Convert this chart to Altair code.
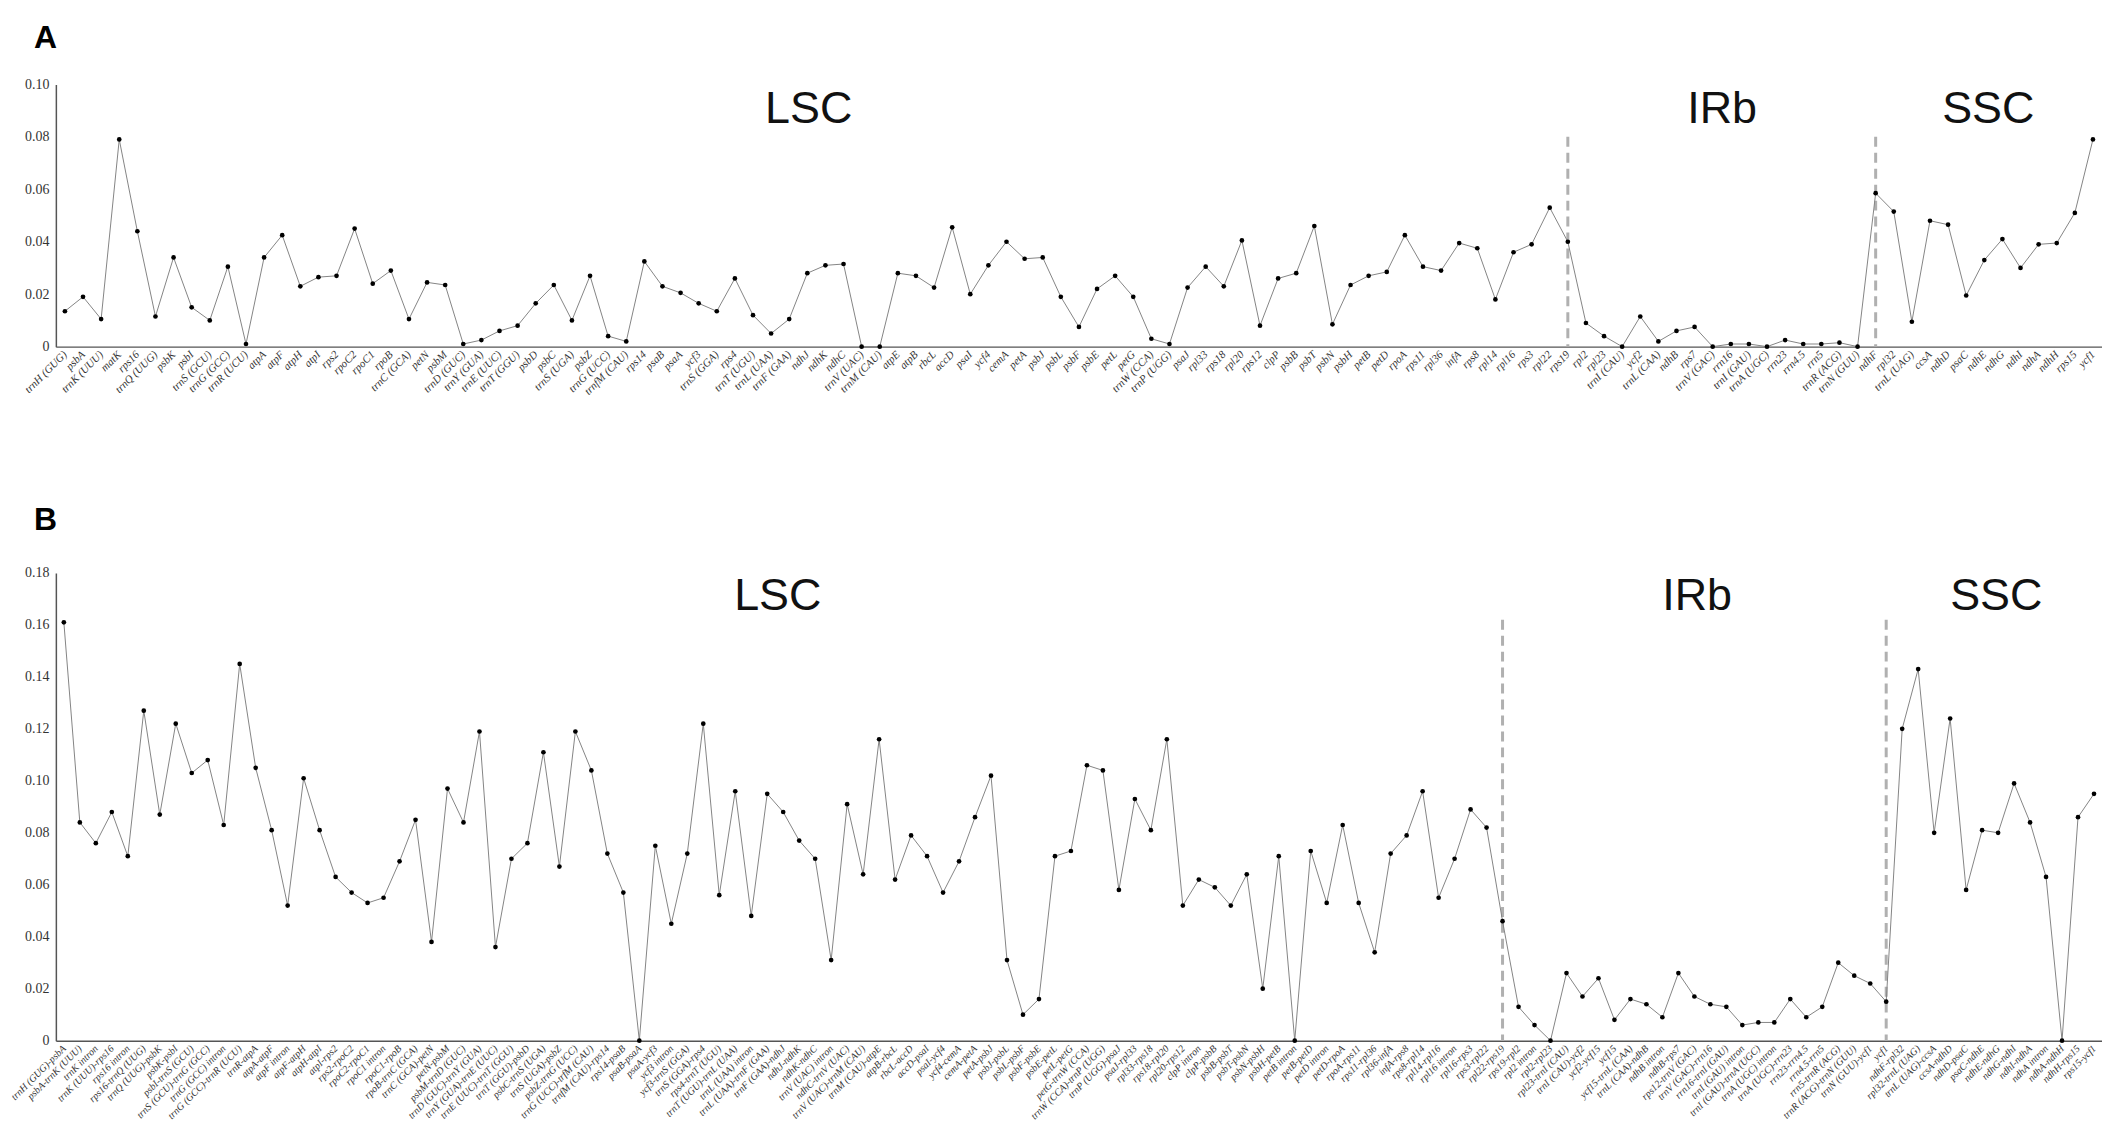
import altair as alt
import pandas as pd

# ---------------- Panel A: genes ----------------
a_genes = [
    "trnH (GUG)", "psbA", "trnK (UUU)", "matK", "rps16", "trnQ (UUG)", "psbK", "psbI",
    "trnS (GCU)", "trnG (GCC)", "trnR (UCU)", "atpA", "atpF", "atpH", "atpI", "rps2",
    "rpoC2", "rpoC1", "rpoB", "trnC (GCA)", "petN", "psbM", "trnD (GUC)", "trnY (GUA)",
    "trnE (UUC)", "trnT (GGU)", "psbD", "psbC", "trnS (UGA)", "psbZ", "trnG (UCC)",
    "trnfM (CAU)", "rps14", "psaB", "psaA", "ycf3", "trnS (GGA)", "rps4", "trnT (UGU)",
    "trnL (UAA)", "trnF (GAA)", "ndhJ", "ndhK", "ndhC", "trnV (UAC)", "trnM (CAU)",
    "atpE", "atpB", "rbcL", "accD", "psaI", "ycf4", "cemA", "petA", "psbJ", "psbL",
    "psbF", "psbE", "petL", "petG", "trnW (CCA)", "trnP (UGG)", "psaJ", "rpl33", "rps18",
    "rpl20", "rps12", "clpP", "psbB", "psbT", "psbN", "psbH", "petB", "petD", "rpoA",
    "rps11", "rpl36", "infA", "rps8", "rpl14", "rpl16", "rps3", "rpl22", "rps19",
    "rpl2", "rpl23", "trnI (CAU)", "ycf2", "trnL (CAA)", "ndhB", "rps7", "trnV (GAC)",
    "rrn16", "trnI (GAU)", "trnA (UGC)", "rrn23", "rrn4.5", "rrn5", "trnR (ACG)",
    "trnN (GUU)", "ndhF", "rpl32", "trnL (UAG)", "ccsA", "ndhD", "psaC", "ndhE", "ndhG",
    "ndhI", "ndhA", "ndhH", "rps15", "ycf1",
]
a_pi = [
    0.0135, 0.019, 0.0105, 0.079, 0.044, 0.0115, 0.034, 0.015,
    0.010, 0.0305, 0.001, 0.034, 0.0425, 0.023, 0.0265, 0.027,
    0.045, 0.024, 0.029, 0.0105, 0.0245, 0.0235, 0.001, 0.0025,
    0.006, 0.008, 0.0165, 0.0235, 0.010, 0.027, 0.004,
    0.002, 0.0325, 0.023, 0.0205, 0.0165, 0.0135, 0.026, 0.012,
    0.005, 0.0105, 0.028, 0.031, 0.0315, 0.0, 0.0,
    0.028, 0.027, 0.0225, 0.0455, 0.020, 0.031, 0.040, 0.0335, 0.034, 0.019,
    0.0075, 0.022, 0.027, 0.019, 0.003, 0.001, 0.0225, 0.0305, 0.023,
    0.0405, 0.008, 0.026, 0.028, 0.046, 0.0085, 0.0235, 0.027, 0.0285, 0.0425,
    0.0305, 0.029, 0.0395, 0.0375, 0.018, 0.036, 0.039, 0.053, 0.040,
    0.009, 0.004, 0.0, 0.0115, 0.002, 0.006, 0.0075, 0.0,
    0.001, 0.001, 0.0, 0.0025, 0.001, 0.001, 0.0015,
    0.0, 0.0585, 0.0515, 0.0095, 0.048, 0.0465, 0.0195, 0.033, 0.041,
    0.030, 0.039, 0.0395, 0.051, 0.079,
]
a_bounds = ["rps19", "ndhF"]
a_bound_top = [0.08, 0.08]

# ---------------- Panel B: intergenic / intron regions ----------------
b_regions = [
    "trnH (GUG)-psbA", "psbA-trnK (UUU)", "trnK intron", "trnK (UUU)-rps16", "rps16 intron",
    "rps16-trnQ (UUG)", "trnQ (UUG)-psbK", "psbK-psbI", "psbI-trnS (GCU)",
    "trnS (GCU)-trnG (GCC)", "trnG (GCC) intron", "trnG (GCC)-trnR (UCU)", "trnR-atpA",
    "atpA-atpF", "atpF intron", "atpF-atpH", "atpH-atpI", "atpI-rps2", "rps2-rpoC2",
    "rpoC2-rpoC1", "rpoC1 intron", "rpoC1-rpoB", "rpoB-trnC (GCA)", "trnC (GCA)-petN",
    "petN-psbM", "psbM-trnD (GUC)", "trnD (GUC)-trnY (GUA)", "trnY (GUA)-trnE (UUC)",
    "trnE (UUC)-trnT (GGU)", "trnT (GGU)-psbD", "psbC-trnS (UGA)", "trnS (UGA)-psbZ",
    "psbZ-trnG (UCC)", "trnG (UCC)-trfM (CAU)", "trnfM (CAU)-rps14", "rps14-psaB",
    "psaB-psaA", "psaA-ycf3", "ycf3 intron", "ycf3-trnS (GGA)", "trnS (GGA)-rps4",
    "rps4-trnT (UGU)", "trnT (UGU)-trnL (UAA)", "trnL (UAA) intron", "trnL (UAA)-trnF (GAA)",
    "trnF (GAA)-ndhJ", "ndhJ-ndhK", "ndhK-ndhC", "trnV (UAC) intron", "ndhC-trnV (UAC)",
    "trnV (UAC)-trnM (CAU)", "trnM (CAU)-atpE", "atpB-rbcL", "rbcL-accD", "accD-psaI",
    "psaI-ycf4", "ycf4-cemA", "cemA-petA", "petA-psbJ", "psbJ-psbL", "psbL-psbF",
    "psbF-psbE", "psbE-petL", "petL-petG", "petG-trnW (CCA)", "trnW (CCA)-trnP (UGG)",
    "trnP (UGG)-psaJ", "psaJ-rpl33", "rpl33-rps18", "rps18-rpl20", "rpl20-rps12",
    "clpP intron", "clpP-psbB", "psbB-psbT", "psbT-psbN", "psbN-psbH", "psbH-petB",
    "petB intron", "petB-petD", "petD intron", "petD-rpoA", "rpoA-rps11", "rps11-rpl36",
    "rpl36-infA", "infA-rps8", "rps8-rpl14", "rpl14-rpl16", "rpl16 intron", "rpl16-rps3",
    "rps3-rpl22", "rpl22-rps19", "rps19-rpl2", "rpl2 intron", "rpl2-rpl23",
    "rpl23-trnI (CAU)", "trnI (CAU)-ycf2", "ycf2-ycf15", "ycf15", "ycf15-trnL (CAA)",
    "trnL (CAA)-ndhB", "ndhB intron", "ndhB-rps7", "rps12-trnV (GAC)", "trnV (GAC)-rrn16",
    "rrn16-trnI (GAU)", "trnI (GAU) intron", "trnI (GAU)-trnA (UGC)", "trnA (UGC) intron",
    "trnA (UGC)-rrn23", "rrn23-rrn4.5", "rrn4.5-rrn5", "rrn5-trnR (ACG)",
    "trnR (ACG)-trnN (GUU)", "trnN (GUU)-ycf1", "ycf1", "ndhF-rpl32", "rpl32-trnL (UAG)",
    "trnL (UAG)-ccsA", "ccsA-ndhD", "ndhD-psaC", "psaC-ndhE", "ndhE-ndhG", "ndhG-ndhI",
    "ndhI-ndhA", "ndhA intron", "ndhA-ndhH", "ndhH-rps15", "rps15-ycf1",
]
b_pi = [
    0.161, 0.084, 0.076, 0.088, 0.071, 0.127, 0.087, 0.122, 0.103, 0.108,
    0.083, 0.145, 0.105, 0.081, 0.052, 0.101, 0.081, 0.063, 0.057, 0.053,
    0.055, 0.069, 0.085, 0.038, 0.097, 0.084, 0.119, 0.036, 0.070, 0.076,
    0.111, 0.067, 0.119, 0.104, 0.072, 0.057, 0.0, 0.075, 0.045, 0.072,
    0.122, 0.056, 0.096, 0.048, 0.095, 0.088, 0.077, 0.070, 0.031, 0.091,
    0.064, 0.116, 0.062, 0.079, 0.071, 0.057, 0.069, 0.086, 0.102, 0.031,
    0.010, 0.016, 0.071, 0.073, 0.106, 0.104, 0.058, 0.093, 0.081, 0.116,
    0.052, 0.062, 0.059, 0.052, 0.064, 0.020, 0.071, 0.0, 0.073, 0.053,
    0.083, 0.053, 0.034, 0.072, 0.079, 0.096, 0.055, 0.070, 0.089, 0.082,
    0.046, 0.013, 0.006, 0.0, 0.026, 0.017, 0.024, 0.008, 0.016, 0.014,
    0.009, 0.026, 0.017, 0.014, 0.013, 0.006, 0.007, 0.007, 0.016, 0.009,
    0.013, 0.030, 0.025, 0.022, 0.015, 0.120, 0.143, 0.080, 0.124, 0.058,
    0.081, 0.080, 0.099, 0.084, 0.063, 0.0, 0.086, 0.095,
]
b_bounds = ["rpl22-rps19", "ycf1"]
b_bound_top = [0.162, 0.162]

region_names = ["LSC", "IRb", "SSC"]
panel_letters = ["A", "B"]

SERIF = "Liberation Serif"
SANS = "Liberation Sans"


def panel(names, values, bounds, bound_top, ymax, yticks, height, xfont,
          letter, letter_y, region_x, region_y):
    df = pd.DataFrame({"name": names, "pi": values})
    bdf = pd.DataFrame({"name": bounds, "top": bound_top, "bottom": [0.0] * len(bounds)})
    xenc = alt.X(
        "name:N", sort=names, title=None,
        scale=alt.Scale(type="point", padding=0.5),
        axis=alt.Axis(labelAngle=315, labelFont=SERIF, labelFontStyle="italic",
                      labelFontSize=xfont, labelColor="#333333", ticks=False,
                      domainColor="#555555", domainWidth=1.5, labelOverlap=False,
                      labelPadding=6, labelLimit=300),
    )
    yenc = alt.Y(
        "pi:Q", title=None,
        scale=alt.Scale(domain=[0, ymax], nice=False, zero=True),
        axis=alt.Axis(values=yticks, grid=False, ticks=False,
                      labelExpr="datum.value == 0 ? '0' : format(datum.value, '.2f')",
                      labelFont=SERIF, labelFontSize=14, labelColor="#333333",
                      domainColor="#555555", domainWidth=1.5, labelPadding=7),
    )
    base = alt.Chart(df).encode(x=xenc, y=yenc)
    line = base.mark_line(color="#858585", strokeWidth=1)
    pts = base.mark_circle(color="black", size=22, opacity=1)
    rules = alt.Chart(bdf).mark_rule(color="#b0b0b0", strokeWidth=3, strokeDash=[10, 6]).encode(
        x=alt.X("name:N", sort=names), y=alt.Y("top:Q"), y2=alt.Y2("bottom:Q")
    )
    layers = [rules, line, pts]
    for nm, px in zip(region_names, region_x):
        layers.append(
            alt.Chart(pd.DataFrame({"t": [nm]})).mark_text(
                font=SANS, fontSize=45, color="#111111", align="center", baseline="middle"
            ).encode(text="t:N", x=alt.value(px), y=alt.value(region_y))
        )
    layers.append(
        alt.Chart(pd.DataFrame({"t": [letter]})).mark_text(
            font=SANS, fontSize=32, fontWeight="bold", color="black", align="left",
            baseline="alphabetic"
        ).encode(text="t:N", x=alt.value(-22), y=alt.value(letter_y))
    )
    return alt.layer(*layers).properties(width=2052, height=height)


chart_a = panel(a_genes, a_pi, a_bounds, a_bound_top, 0.10,
                [0, 0.02, 0.04, 0.06, 0.08, 0.10], 263, 11,
                panel_letters[0], -36, [755, 1671, 1938], 25)
chart_b = panel(b_regions, b_pi, b_bounds, b_bound_top, 0.18,
                [0, 0.02, 0.04, 0.06, 0.08, 0.10, 0.12, 0.14, 0.16, 0.18], 469, 10,
                panel_letters[1], -43, [724, 1646, 1946], 23)

chart = alt.vconcat(chart_a, chart_b, spacing=108).properties(
    padding={"left": 0, "top": 13, "right": 0, "bottom": 0},
    background="white",
).configure_view(stroke=None)

chart.save("out.html", embed_options={"renderer": "svg", "actions": False})
